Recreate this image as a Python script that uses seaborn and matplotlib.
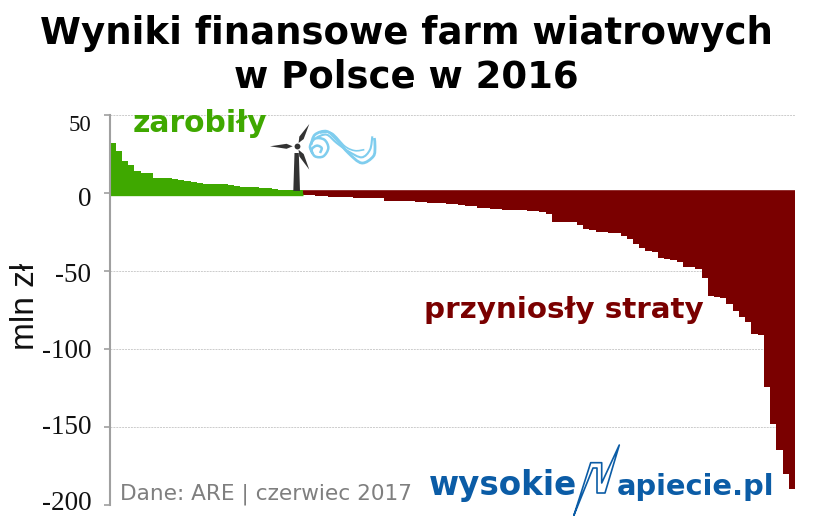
import numpy as np
import pandas as pd
import matplotlib
matplotlib.use("Agg")
import matplotlib.pyplot as plt
from matplotlib.path import Path
from matplotlib.patches import PathPatch, Polygon
from matplotlib.transforms import Affine2D, ScaledTranslation
import seaborn as sns

title = "Wyniki finansowe farm wiatrowych\nw Polsce w 2016"
gains = [32.3, 27, 20.7, 18, 14, 12.6, 12.6, 9.8, 9.8, 9.4, 9, 8.5, 7.7, 7, 6.6, 6, 6, 6, 5.5, 5,
         4.5, 3.8, 3.8, 3.8, 3.4, 3, 2.6, 2.1, 2.1, 1.9, 1.7]
losses = [-1.3, -1.5, -2, -2.2, -2.4, -2.6, -2.7, -2.8, -3, -3.1, -3.3, -3.4, -3.5, -4.9, -5, -5, -5.2,
          -5.4, -5.6, -5.8, -6.2, -6.3, -6.5, -6.8, -7.3, -7.8, -8.3, -8.6, -9.3, -9.8, -10, -10.3,
          -10.6, -10.9, -11, -11.2, -11.4, -11.5, -12, -13.5, -18.4, -18.5, -18.7, -18.9, -20.5,
          -23.3, -23.6, -24.8, -25.2, -25.5, -25.9, -27.6, -29.7, -32.9, -35, -37.2, -37.6, -41.9,
          -42.6, -43.2, -44.5, -47.2, -47.6, -48.5, -54.3, -65.8, -66.5, -67.5, -71.2, -75.4, -79.3,
          -82.5, -90.5, -91, -124.5, -148.3, -164.7, -180, -190]
y_ticks = [50, 0, -50, -100, -150, -200]
label_shift_px = [8, 4, 2, -1, -3, -5]
label_sizes = [16.5, 19.5, 19.5, 19.5, 19.5, 19.5]

GREEN = "#3FA800"
RED = "#7A0000"
BLUE = "#0B5CA6"
SKY = "#7FCDEE"
DARK = "#333333"

sns.set_theme(style="white")
plt.rcParams["font.family"] = ["DejaVu Sans"]

df = pd.DataFrame({
    "rank": np.arange(len(gains) + len(losses)),
    "value": gains + losses,
    "group": ["zysk"] * len(gains) + ["strata"] * len(losses),
})

W, H = 815, 526
fig = plt.figure(figsize=(W / 100, H / 100), dpi=100, facecolor="white")
ax = fig.add_axes([109.5 / W, (H - 505) / H, (795 - 109.5) / W, 390 / H])

sns.barplot(data=df, x="rank", y="value", hue="group", palette={"zysk": GREEN, "strata": RED},
            dodge=False, width=1.0, legend=False, ax=ax, linewidth=0, saturation=1)
n_g = len(gains)
ax.hlines(-0.7, -0.5, n_g - 0.5, color=GREEN, lw=2.4)
ax.hlines(0.6, n_g - 0.5, len(df) - 0.5, color=RED, lw=2.6)

ax.set_xlim(-0.5, len(df) - 0.5)
ax.set_ylim(-200, 50)
ax.set_yticks(y_ticks)
ax.set_yticklabels([str(v) for v in y_ticks], family="Liberation Serif", color="#111111")
ax.set_xticks([])
ax.set_xlabel("")
ax.set_ylabel("")
ax.grid(axis="y", color="#cccccc", linestyle=(0, (2, 1)), lw=0.7)
ax.set_axisbelow(True)
for s in ["top", "right", "bottom"]:
    ax.spines[s].set_visible(False)
ax.spines["left"].set_color("#a0a0a0")
ax.spines["left"].set_linewidth(1.5)
ax.tick_params(axis="y", left=True, length=4.5, width=1.2, color="#a0a0a0", pad=8.5)
for lab, dy, size in zip(ax.get_yticklabels(), label_shift_px, label_sizes):
    lab.set_fontsize(size)
    lab.set_transform(lab.get_transform() + ScaledTranslation(0, -dy / 100, fig.dpi_scale_trans))

# pixel-space transform for text and decorations
px = Affine2D().scale(1 / W, -1 / H).translate(0, 1) + fig.transFigure

fig.text(406, 55.5, title, transform=px, ha="center", va="center", fontsize=26.7, fontweight="bold",
         color="black", linespacing=1.23)
fig.text(25, 306, "mln zł", transform=px, rotation=90, ha="center", va="center",
         family="Liberation Sans", fontsize=24, color="#111111")
fig.text(133, 124, "zarobiły", transform=px, ha="left", va="center", fontsize=21.4, fontweight="bold", color=GREEN)
fig.text(424, 310, "przyniosły straty", transform=px, ha="left", va="center", fontsize=21.2, fontweight="bold", color=RED)
fig.text(120, 494, "Dane: ARE | czerwiec 2017", transform=px, ha="left", va="center", fontsize=15.6, color="#7f7f7f")

# logo
fig.text(429, 495, "wysokie", transform=px, ha="left", va="baseline", fontsize=23.5, fontweight="bold", color=BLUE)
fig.text(617, 495, "apiecie.pl", transform=px, ha="left", va="baseline", fontsize=20.8, fontweight="bold", color=BLUE)
bolt = [(574, 515), (590.7, 462.7), (601.7, 462.7), (601.7, 483), (619.3, 445), (605, 493), (597, 493),
        (597, 468), (593, 468), (574, 515)]
fig.add_artist(plt.Line2D([p[0] for p in bolt], [p[1] for p in bolt], transform=px, color=BLUE, lw=1.2))

# wind turbine
fig.add_artist(Polygon([(294.5, 153), (298.8, 153), (300, 191), (293.3, 191)], closed=True, transform=px, color=DARK, lw=0))
hub = np.array([296.7, 146.3])
for tip in [(270, 146.3), (309.3, 124), (309.3, 169.7)]:
    tip = np.array(tip)
    d = tip - hub
    n = np.array([-d[1], d[0]]) / np.hypot(*d)
    a = hub + 0.15 * d
    m = hub + 0.38 * d
    fig.add_artist(Polygon([a, m + 2.5 * n, tip, m - 2.5 * n], closed=True, transform=px, color=DARK, lw=0))
fig.add_artist(plt.Line2D([hub[0]], [hub[1]], transform=px, marker="o", ms=4.2, mfc=DARK, mec=DARK, mew=0))


def smooth(points):
    """Catmull-Rom curve through the points, as a Bezier path."""
    p = np.array(points, float)
    p = np.vstack([p[0], p, p[-1]])
    verts, codes = [p[1]], [Path.MOVETO]
    for i in range(1, len(p) - 2):
        verts += [p[i] + (p[i + 1] - p[i - 1]) / 6, p[i + 1] - (p[i + 2] - p[i]) / 6, p[i + 1]]
        codes += [Path.CURVE4] * 3
    return Path(verts, codes)


# wind swirl, read in a 3x crop whose corner is (265, 118)
swirls = [
    ([(165, 105), (170, 90), (155, 83), (140, 95), (150, 115), (175, 115), (190, 90), (178, 65), (150, 62), (135, 85), (142, 105)], 1.8),
    ([(138, 80), (150, 50), (185, 40), (215, 65), (250, 105), (290, 135), (325, 115), (330, 85), (328, 60)], 2.0),
    ([(155, 58), (185, 50), (215, 75), (250, 100), (290, 118), (315, 95), (322, 55)], 1.5),
    ([(165, 45), (200, 45), (240, 85), (270, 98), (298, 95)], 1.2),
]
for pts, lw in swirls:
    path = smooth([(265 + x / 3, 118 + y / 3) for x, y in pts])
    fig.add_artist(PathPatch(path, transform=px, fc="none", ec=SKY, lw=lw))

fig.savefig("out.png", dpi=100, facecolor="white")
